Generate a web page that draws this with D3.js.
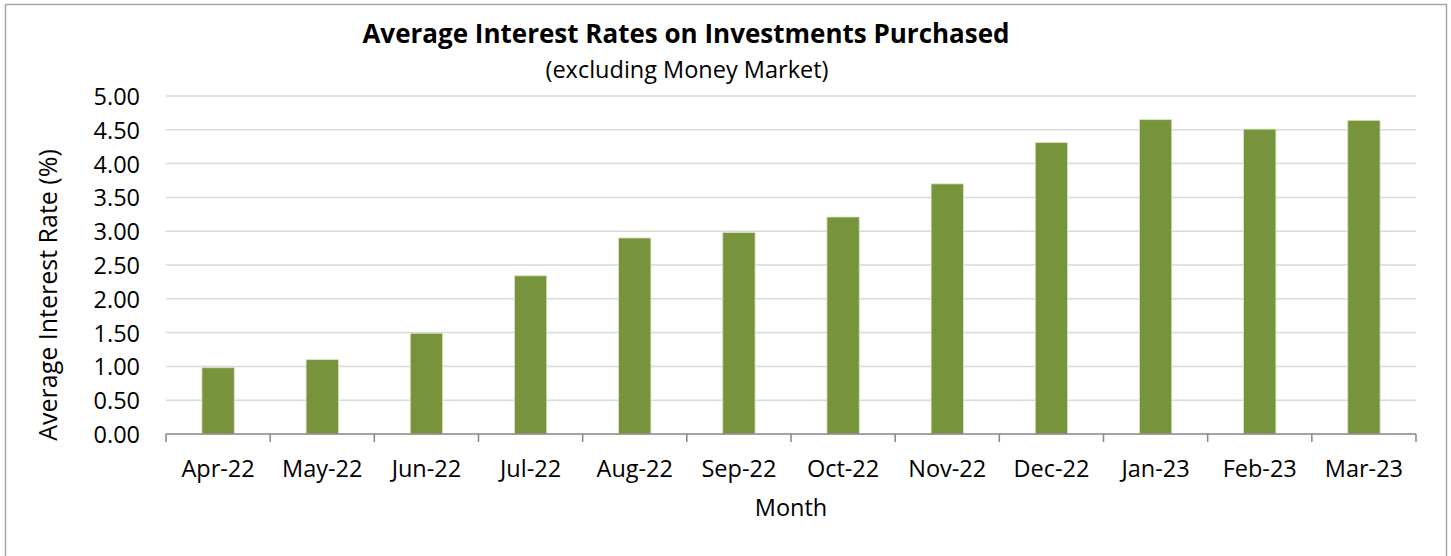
<!DOCTYPE html>
<html>
<head>
<meta charset="utf-8">
<script src="https://cdn.jsdelivr.net/npm/d3@7"></script>
<style>
  body { margin: 0; background: #fff; }
  svg text { font-family: "Open Sans", Lato, sans-serif; fill: #000; }
</style>
</head>
<body>
<svg id="chart"></svg>
<script>
const months = ["Apr-22", "May-22", "Jun-22", "Jul-22", "Aug-22", "Sep-22",
  "Oct-22", "Nov-22", "Dec-22", "Jan-23", "Feb-23", "Mar-23"];
const rates = [0.98, 1.10, 1.49, 2.34, 2.90, 2.98, 3.21, 3.70, 4.31, 4.65, 4.51, 4.64];
const yTicks = [0, 0.5, 1, 1.5, 2, 2.5, 3, 3.5, 4, 4.5, 5];

const W = 1451, H = 556;
const margin = { top: 96, left: 166, right: 35, bottom: 122 };
const width = W - margin.left - margin.right;
const height = H - margin.top - margin.bottom;

const svg = d3.select('#chart').attr('width', W).attr('height', H);

// outer frame
svg.append('rect')
  .attr('x', 5.5).attr('y', 4.5)
  .attr('width', 1441).attr('height', 560)
  .attr('fill', 'none').attr('stroke', '#a6a6a6').attr('stroke-width', 1.5);

const g = svg.append('g').attr('transform', `translate(${margin.left},${margin.top})`);

const x = d3.scaleBand().domain(months).range([0, width]).paddingInner(0.69).paddingOuter(0.345);
const xb = d3.scaleBand().domain(months).range([0, width]);
const y = d3.scaleLinear().domain([0, 5]).range([height, 0]);

// gridlines
g.append('g').selectAll('line').data(yTicks.slice(1)).join('line')
  .attr('x1', 0).attr('x2', width)
  .attr('y1', (d) => y(d)).attr('y2', (d) => y(d))
  .attr('stroke', '#d9d9d9').attr('stroke-width', 1.5);

// bars
g.append('g').selectAll('rect').data(rates).join('rect')
  .attr('x', (d, i) => x(months[i]))
  .attr('y', (d) => y(d))
  .attr('width', x.bandwidth())
  .attr('height', (d) => height - y(d))
  .attr('fill', '#77933c')
  .attr('stroke', '#d7e4bd').attr('stroke-width', 0.8);

// y axis labels
const yaxis = d3.axisLeft(y).tickValues(yTicks).tickFormat(d3.format('.2f')).tickSize(0).tickPadding(26);
const gy = g.append('g').call(yaxis);
gy.select('.domain').remove();
gy.selectAll('text').style('font-size', '23.5px').attr('dy', '0.36em');

// x axis with tick marks at category boundaries
const gx = g.append('g').attr('transform', `translate(0,${height})`);
gx.append('line').attr('x1', 0).attr('x2', width).attr('y1', 0).attr('y2', 0)
  .attr('stroke', '#868686').attr('stroke-width', 1.5);
gx.selectAll('line.tick').data(months.concat(['end'])).join('line')
  .attr('class', 'tick')
  .attr('x1', (d, i) => i * xb.step()).attr('x2', (d, i) => i * xb.step())
  .attr('y1', 0).attr('y2', 8)
  .attr('stroke', '#868686').attr('stroke-width', 1.5);
gx.selectAll('text').data(months).join('text')
  .attr('x', (d) => xb(d) + xb.bandwidth() / 2)
  .attr('y', 43)
  .attr('text-anchor', 'middle')
  .style('font-size', '23.5px')
  .text((d) => d);

// axis titles
svg.append('text')
  .attr('x', margin.left + width / 2).attr('y', 516)
  .attr('text-anchor', 'middle').style('font-size', '23.5px')
  .text('Month');
svg.append('text')
  .attr('transform', 'translate(57,295) rotate(-90)')
  .attr('text-anchor', 'middle').style('font-size', '25px')
  .text('Average Interest Rate (%)');

// titles
svg.append('text')
  .attr('x', 686).attr('y', 43)
  .attr('text-anchor', 'middle').style('font-size', '26px').style('font-weight', 'bold')
  .text('Average Interest Rates on Investments Purchased');
svg.append('text')
  .attr('x', 687).attr('y', 78)
  .attr('text-anchor', 'middle').style('font-size', '23.5px')
  .text('(excluding Money Market)');
</script>
</body>
</html>
